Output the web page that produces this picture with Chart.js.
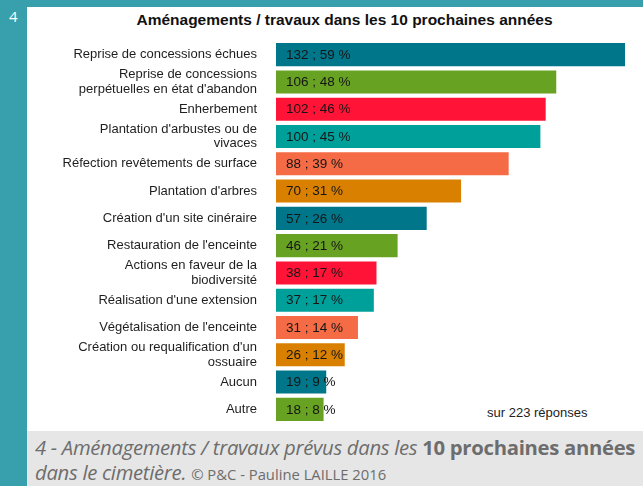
<!DOCTYPE html>
<html>
<head>
<meta charset="utf-8">
<script src="https://cdn.jsdelivr.net/npm/chart.js@4"></script>
<style>
  html, body { margin: 0; padding: 0; }
  body { width: 643px; height: 486px; position: relative; overflow: hidden; background: #389fad; font-family: "Liberation Sans", Arial, sans-serif; }
  #num { position: absolute; left: 9px; top: 6px; color: #fff; font: 15px "Open Sans", sans-serif; }
  #panel { position: absolute; left: 27px; top: 7px; width: 616px; height: 424px; background: #fff; }
  #caption { position: absolute; left: 27px; top: 431px; width: 616px; height: 55px; background: #e6e6e6; }
  #captext { position: absolute; left: 35px; top: 435px; width: 700px; color: #6d6d6d; font: italic 20.3px/25px "Open Sans", sans-serif; white-space: nowrap; letter-spacing: -0.3px; }
  #captext b { font-style: normal; font-weight: 700; }
  #captext small { font-style: normal; font-size: 14.8px; letter-spacing: 0; }
  #title { position: absolute; left: 0; width: 689px; top: 11px; text-align: center; font: bold 15.5px "Liberation Sans", Arial, sans-serif; color: #111; }
  #note { position: absolute; left: 487px; top: 405px; font: 13px "Liberation Sans", Arial, sans-serif; color: #222; }
  #wrap { position: absolute; left: 0; top: 0; width: 643px; height: 486px; }
</style>
</head>
<body>
<div id="num">4</div>
<div id="panel"></div>
<div id="caption"></div>
<div id="captext">4 - Aménagements / travaux prévus dans les <b>10 prochaines années</b><br>dans le cimetière. <small>© P&amp;C - Pauline LAILLE 2016</small></div>
<div id="title">Aménagements / travaux dans les 10 prochaines années</div>
<div id="note">sur 223 réponses</div>
<div id="wrap"><canvas id="c" width="643" height="486"></canvas></div>
<script>
// Answers (count of respondents and share of 223)
const categories = [
  "Reprise de concessions échues",
  ["Reprise de concessions", "perpétuelles en état d'abandon"],
  "Enherbement",
  ["Plantation d'arbustes ou de", "vivaces"],
  "Réfection revêtements de surface",
  "Plantation d'arbres",
  "Création d'un site cinéraire",
  "Restauration de l'enceinte",
  ["Actions en faveur de la", "biodiversité"],
  "Réalisation d'une extension",
  "Végétalisation de l'enceinte",
  ["Création ou requalification d'un", "ossuaire"],
  "Aucun",
  "Autre"
];
const counts   = [132, 106, 102, 100, 88, 70, 57, 46, 38, 37, 31, 26, 19, 18];
const percents = [59, 48, 46, 45, 39, 31, 26, 21, 17, 17, 14, 12, 9, 8];
const palette  = ["#00768a", "#67a222", "#ff1437", "#00a09a", "#f46b45", "#d98000"];

// Writes "count ; pct %" just inside the start of each bar
const valueLabels = {
  id: 'valueLabels',
  afterDatasetsDraw(chart) {
    const ctx = chart.ctx;
    const meta = chart.getDatasetMeta(0);
    ctx.save();
    ctx.font = '13.5px "Liberation Sans", Arial, sans-serif';
    ctx.fillStyle = '#151515';
    ctx.textBaseline = 'middle';
    ctx.textAlign = 'left';
    meta.data.forEach((bar, i) => {
      ctx.fillText(counts[i] + ' ; ' + percents[i] + ' %', bar.base + 10, bar.y + 0.5);
    });
    ctx.restore();
  }
};

new Chart(document.getElementById('c'), {
  type: 'bar',
  data: {
    labels: categories,
    datasets: [{
      data: counts,
      backgroundColor: counts.map((_, i) => palette[i % palette.length]),
      borderWidth: 0,
      barPercentage: 0.845,
      categoryPercentage: 1
    }]
  },
  options: {
    indexAxis: 'y',
    responsive: false,
    animation: false,
    layout: { padding: { top: 41, bottom: 63, right: 18, left: 0 } },
    plugins: { legend: { display: false }, tooltip: { enabled: false } },
    scales: {
      x: { display: false, min: 0, max: 132 },
      y: {
        grid: { display: false, drawTicks: false },
        border: { display: false },
        ticks: {
          autoSkip: false,
          padding: 19,
          color: '#1e1e1e',
          font: { family: '"Liberation Sans", Arial, sans-serif', size: 13, lineHeight: 1.1 }
        },
        afterFit(scale) { scale.width = 276; }
      }
    }
  },
  plugins: [valueLabels]
});
</script>
</body>
</html>
